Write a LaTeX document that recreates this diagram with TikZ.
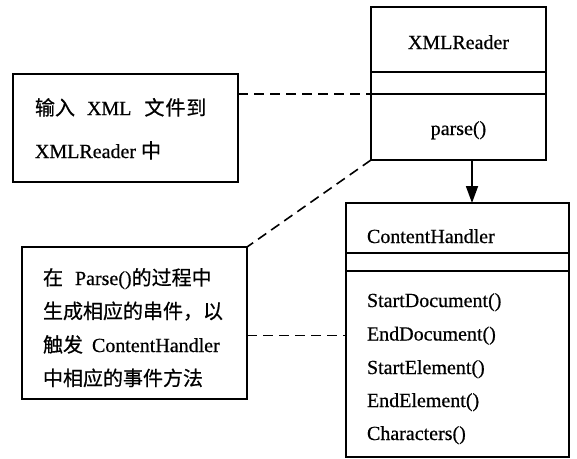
\documentclass[tikz,border=0pt]{standalone}
\usepackage{fontspec}
\setmainfont[FakeBold=0.6]{Liberation Serif}
\newfontfamily\cjk[FakeBold=0.6]{Noto Sans CJK SC}
\usetikzlibrary{arrows.meta}
\begin{document}
\begin{tikzpicture}[x=1pt,y=-1pt,
  every node/.style={inner sep=0pt, outer sep=0pt},
  part/.style n args={2}{draw, line width=1.8pt, minimum width=#1, minimum height=#2},
  lbl/.style={font=\fontsize{20}{24}\selectfont},
  note/.style={lbl, anchor=base west},
  link/.style={line width=1.6pt, dash pattern=on 10pt off 6pt},
  flow/.style={line width=1.8pt, -{Triangle[length=17pt,width=12pt]}}]
  \fill[white] (0,0) rectangle (577,458);
  \useasboundingbox (0,0) rectangle (577,458);

  % XMLReader class
  \node[part={175pt}{65pt}] (xrName) at (458.5,39.5) {};
  \node[part={175pt}{22pt}] (xrAttr) at (458.5,83) {};
  \node[part={175pt}{66pt}] (xrOps)  at (458.5,127) {};
  \node[lbl, anchor=base] (xrTitle) at (458.5,49) {XMLReader};
  \node[lbl, anchor=base] (xrParse) at (458.5,135) {parse()};

  % ContentHandler class
  \node[part={223pt}{50pt}]  (chName) at (457.5,228) {};
  \node[part={223pt}{18pt}]  (chAttr) at (457.5,262) {};
  \node[part={223pt}{186pt}] (chOps)  at (457.5,364) {};
  \node[note] (chTitle) at (367,243) {ContentHandler};
  \node[note] (m1) at (367,307) {StartDocument()};
  \node[note] (m2) at (367,340.5) {EndDocument()};
  \node[note] (m3) at (367,374) {StartElement()};
  \node[note] (m4) at (367,407) {EndElement()};
  \node[note] (m5) at (367,440) {Characters()};

  % note boxes
  \node[part={225pt}{108pt}] (noteA) at (125.5,128) {};
  \node[note] (noteA1) at (35,115) {{\cjk 输入}\hspace{12pt}XML\hspace{13pt}{\cjk 文\hspace{1pt}件\hspace{1pt}到}};
  \node[note] (noteA2) at (35,158) {XMLReader {\cjk 中}};

  \node[part={225pt}{152pt}] (noteB) at (134.5,323) {};
  \node[note] (noteB1) at (43,285) {{\cjk 在}\hspace{12pt}Parse(){\cjk 的过程中}};
  \node[note] (noteB2) at (43,318.5) {\cjk 生成相应的串件，以};
  \node[note] (noteB3) at (43,352) {{\cjk 触发}\hspace{9pt}ContentHandler};
  \node[note] (noteB4) at (43,385.5) {\cjk 中相应的事件方法};

  % connectors
  \coordinate (callOut) at (472,160);
  \draw[flow] (callOut) -- (callOut |- chName.north);
  \draw[link] (noteA.east |- xrOps.north west) -- (xrOps.north west);
  \draw[link] (xrOps.south west) -- (noteB.north east);
  \draw[link] (noteB.east |- m2.west) -- (chOps.west |- m2.west);
\end{tikzpicture}
\end{document}
